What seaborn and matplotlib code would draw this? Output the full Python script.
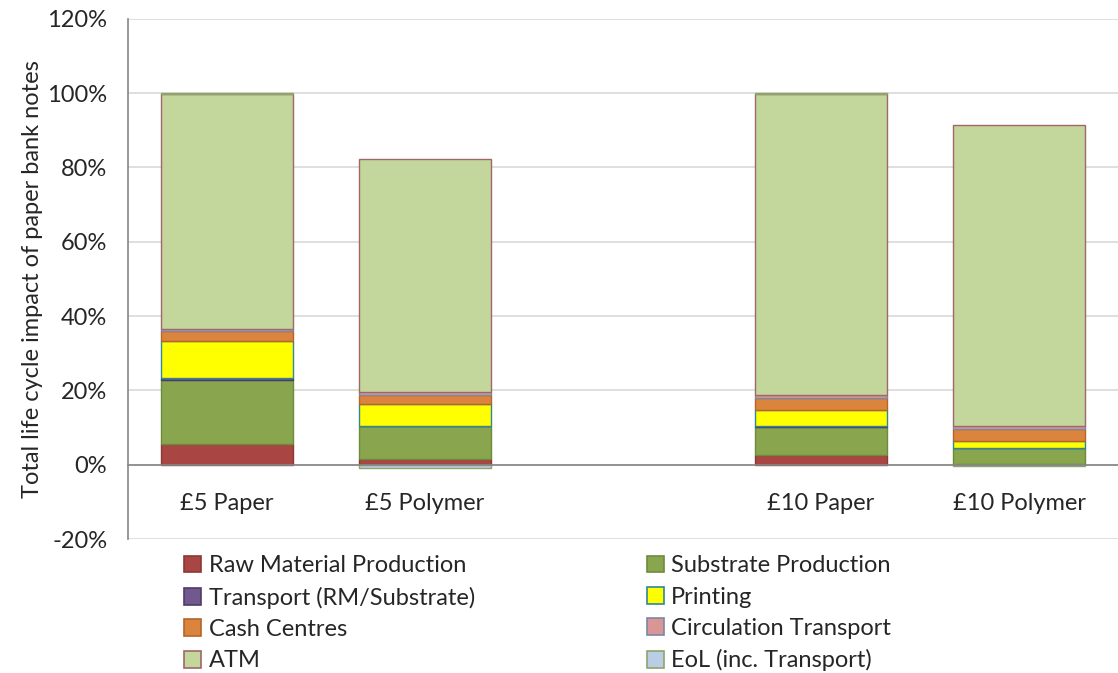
import numpy as np
import pandas as pd
import matplotlib
matplotlib.use("Agg")
import matplotlib.pyplot as plt
from matplotlib.ticker import PercentFormatter, MultipleLocator
from matplotlib.patches import Patch
import seaborn as sns

# bank notes and the category slots (blank slot separates £5 and £10)
notes = ["£5 Paper", "£5 Polymer", "£10 Paper", "£10 Polymer"]
slots = ["£5 Paper", "£5 Polymer", " ", "£10 Paper", "£10 Polymer"]

# share of total life cycle impact of the paper note, %
raw_material = [5.5, 1.6, 2.5, 0.3]
substrate = [17.2, 8.7, 7.6, 4.2]
transport_rm = [0.7, 0.1, 0.3, 0.1]
printing = [9.8, 5.9, 4.4, 1.9]
cash_centres = [2.7, 2.5, 3.2, 3.2]
circulation = [0.7, 0.7, 0.7, 0.7]
atm = [63.2, 62.8, 81.1, 81.0]
eol = [0.2, -1.0, 0.2, -0.4]

layers = [
    ("Raw Material Production", raw_material, "#A94643", "#8C3836"),
    ("Substrate Production", substrate, "#89A54E", "#6E8A3C"),
    ("Transport (RM/Substrate)", transport_rm, "#71588F", "#4E3D66"),
    ("Printing", printing, "#FFFF00", "#31859C"),
    ("Cash Centres", cash_centres, "#DB843D", "#B4652A"),
    ("Circulation Transport", circulation, "#D99694", "#7A88A6"),
    ("ATM", atm, "#C3D69B", "#A0666A"),
    ("EoL (inc. Transport)", eol, "#B9CDE5", "#8FA46A"),
]

sns.set_style("white")
plt.rcParams["font.family"] = ["Lato", "DejaVu Sans"]
plt.rcParams["axes.unicode_minus"] = False

fs = 17
fig = plt.figure(figsize=(11.18, 6.73), dpi=100)
ax = fig.add_axes([0.1145, 0.199, 0.8855, 0.773])

pos_base = np.zeros(len(notes))
neg_base = np.zeros(len(notes))
handles = {}
for name, vals, fc, ec in layers:
    vals = np.array(vals, dtype=float)
    bottom = np.where(vals >= 0, pos_base, neg_base)
    df = pd.DataFrame({"note": notes, "impact": vals})
    sns.barplot(data=df, x="note", y="impact", order=slots, color=fc,
                saturation=1, edgecolor=ec, linewidth=1.0, width=0.67,
                bottom=bottom, errorbar=None, ax=ax)
    pos_base += np.where(vals >= 0, vals, 0)
    neg_base += np.where(vals < 0, vals, 0)
    handles[name] = Patch(facecolor=fc, edgecolor=ec, linewidth=1.2, label=name)

ax.set_xlim(-0.5, 4.5)
ax.set_ylim(-20, 120)
ax.yaxis.set_major_locator(MultipleLocator(20))
ax.yaxis.set_major_formatter(PercentFormatter(100, decimals=0))
ax.grid(axis="y", color="#D9D9D9", linewidth=1.2)
ax.set_axisbelow(True)

for s in ["top", "right"]:
    ax.spines[s].set_visible(False)
ax.spines["bottom"].set_position(("data", 0))
for s in ["left", "bottom"]:
    ax.spines[s].set_color("#868686")
    ax.spines[s].set_linewidth(1.2)

ax.set_xticks(np.arange(-0.5, 5, 1))
ax.set_xticklabels([""] * 6)
ax.set_xticks(range(len(slots)), slots, minor=True)
ax.tick_params(axis="x", which="major", direction="out", length=7,
               width=1.2, color="#868686")
ax.tick_params(axis="x", which="minor", length=0, pad=20, labelsize=fs)
ax.tick_params(axis="y", direction="out", length=5, width=1.2,
               color="#868686", labelsize=fs, pad=10)

ax.set_xlabel("")
ax.set_ylabel("Total life cycle impact of paper bank notes", fontsize=fs,
              labelpad=3)

order = ["Raw Material Production", "Transport (RM/Substrate)", "Cash Centres",
         "ATM", "Substrate Production", "Printing", "Circulation Transport",
         "EoL (inc. Transport)"]
fig.legend(handles=[handles[n] for n in order], loc="upper left",
           bbox_to_anchor=(0.165, 0.175), ncol=2, frameon=False, fontsize=fs,
           handlelength=0.72, handleheight=0.72, handletextpad=0.3,
           labelspacing=0.44, columnspacing=7.3, borderpad=0, borderaxespad=0)

fig.savefig("out.png", dpi=100)
